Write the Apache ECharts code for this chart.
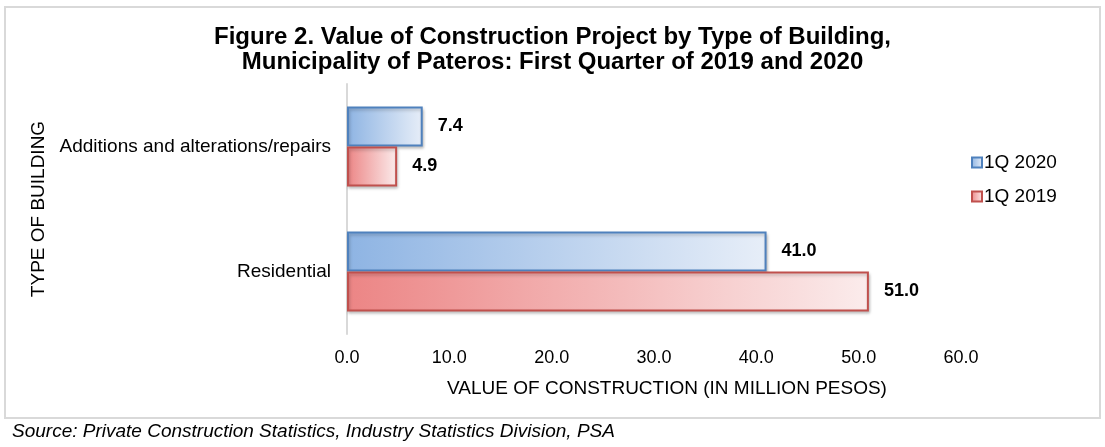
<!DOCTYPE html>
<html>
<head>
<meta charset="utf-8">
<script src="https://cdn.jsdelivr.net/npm/echarts@6/dist/echarts.min.js"></script>
<style>html,body{margin:0;padding:0;background:#fff}#c{width:1105px;height:447px}</style>
</head>
<body>
<div id="c"></div>
<script>
const categories = ['Additions and alterations/repairs', 'Residential'];
const series2020 = [7.4, 41.0];
const series2019 = [4.9, 51.0];
const seriesNames = ['1Q 2020', '1Q 2019'];
const xTicks = [0, 10, 20, 30, 40, 50, 60];

const font = '"Liberation Sans", Arial, sans-serif';
const chart = echarts.init(document.getElementById('c'));

function grad(a, b) {
  return new echarts.graphic.LinearGradient(0, 0, 1, 0, [
    { offset: 0, color: a }, { offset: 1, color: b }
  ]);
}
const blueFill = grad('#8eb4e3', '#e7eef8');
const redFill = grad('#ec8585', '#fbecec');

function barSeries(name, data, fill, border) {
  return {
    name: name,
    type: 'bar',
    data: data,
    barWidth: 40,
    barGap: '0%',
    itemStyle: {
      color: fill,
      borderColor: border,
      borderWidth: 2,
      shadowColor: 'rgba(0,0,0,0.22)',
      shadowBlur: 3,
      shadowOffsetX: 1,
      shadowOffsetY: 2
    },
    label: {
      show: true,
      position: 'right',
      distance: 15,
      formatter: p => p.value.toFixed(1),
      fontFamily: font,
      fontSize: 18,
      fontWeight: 'bold',
      color: '#000'
    }
  };
}

chart.setOption({
  animation: false,
  textStyle: { fontFamily: font },
  title: {
    text: 'Figure 2. Value of Construction Project by Type of Building,\nMunicipality of Pateros: First Quarter of 2019 and 2020',
    left: 'center',
    top: 20,
    textStyle: { fontFamily: font, fontSize: 24, fontWeight: 'bold', color: '#000', lineHeight: 25 }
  },
  legend: {
    orient: 'vertical',
    left: 966,
    top: 148,
    icon: 'rect',
    itemWidth: 10,
    itemHeight: 10,
    itemGap: 15,
    data: seriesNames,
    textStyle: { fontFamily: font, fontSize: 19, color: '#000', padding: [0, 0, 0, -3] }
  },
  grid: { left: 347, right: 144, top: 84, bottom: 113, containLabel: false },
  xAxis: {
    type: 'value',
    min: 0,
    max: 60,
    interval: 10,
    axisLine: { show: false },
    axisTick: { show: false },
    splitLine: { show: false },
    axisLabel: {
      margin: 15,
      fontFamily: font, fontSize: 18, color: '#000',
      formatter: v => xTicks.includes(v) ? v.toFixed(1) : ''
    },
    name: 'VALUE OF CONSTRUCTION (IN MILLION PESOS)',
    nameLocation: 'middle',
    nameGap: 45,
    nameTextStyle: { fontFamily: font, fontSize: 19, color: '#000', padding: [0, 0, 0, 26] }
  },
  yAxis: {
    type: 'category',
    data: categories,
    inverse: true,
    axisLine: { show: true, lineStyle: { color: '#d9d9d9', width: 2 } },
    axisTick: { show: false },
    axisLabel: { margin: 16, fontFamily: font, fontSize: 19, color: '#000' },
    name: 'TYPE OF BUILDING',
    nameLocation: 'middle',
    nameGap: 297,
    nameRotate: 90,
    nameTextStyle: { fontFamily: font, fontSize: 19, color: '#000' }
  },
  series: [
    barSeries(seriesNames[0], series2020, blueFill, '#4f81bd'),
    barSeries(seriesNames[1], series2019, redFill, '#c0504d')
  ],
  graphic: [
    {
      type: 'rect',
      shape: { x: 5, y: 7, width: 1095, height: 411 },
      style: { fill: 'none', stroke: '#d9d9d9', lineWidth: 2 },
      silent: true
    },
    {
      type: 'text',
      left: 12,
      top: 422,
      style: {
        text: 'Source: Private Construction Statistics, Industry Statistics Division, PSA',
        fontFamily: font, fontSize: 19, fontStyle: 'italic', fill: '#000'
      }
    }
  ]
});
</script>
</body>
</html>
